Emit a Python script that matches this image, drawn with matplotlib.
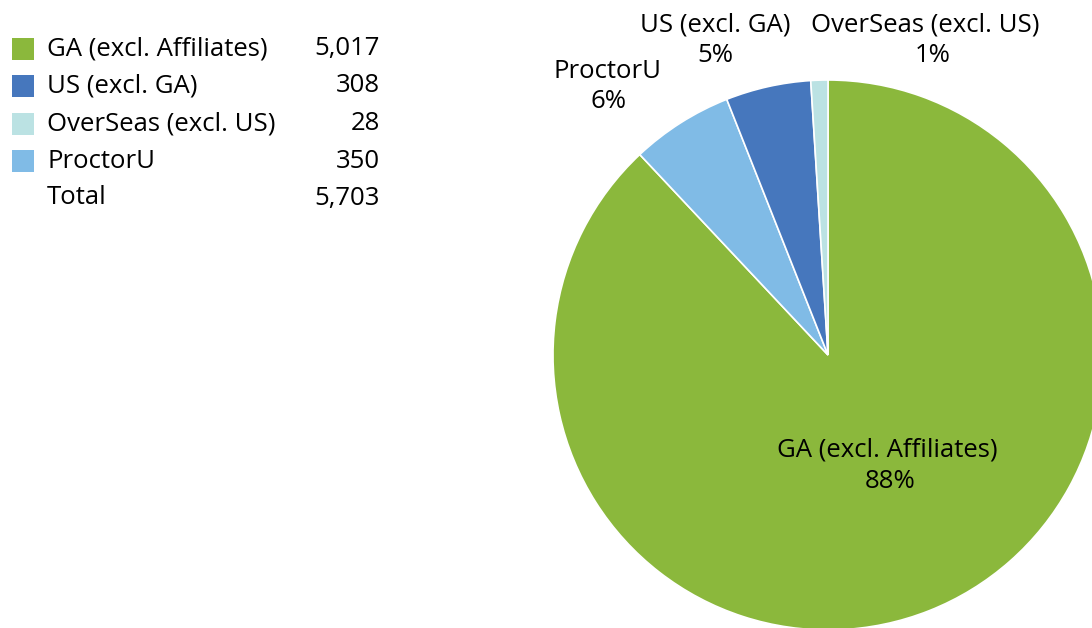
import matplotlib.pyplot as plt

# Table data
categories = ["GA (excl. Affiliates)", "US (excl. GA)", "OverSeas (excl. US)", "ProctorU"]
counts = [5017, 308, 28, 350]
total_label = "Total"
total = 5703
colors = ["#8BB83C", "#4677BD", "#BBE2E3", "#80BBE6"]

# Pie shares as shown on the chart labels (clockwise from top)
pie_order = ["GA (excl. Affiliates)", "ProctorU", "US (excl. GA)", "OverSeas (excl. US)"]
pie_share = [88, 6, 5, 1]

plt.rcParams['font.family'] = ['Open Sans', 'DejaVu Sans']
FS = 18.5

fig = plt.figure(figsize=(10.92, 6.28), dpi=100)
ax = fig.add_axes([0, 0, 1, 1])

H = 628
pie_colors = [colors[categories.index(c)] for c in pie_order]
wedges, _ = ax.pie(pie_share, colors=pie_colors, startangle=90, counterclock=False,
                   center=(828, H - 355), radius=275, frame=True,
                   wedgeprops=dict(edgecolor='white', linewidth=1.2))
ax.set_xlim(0, 1092)
ax.set_ylim(0, 628)
ax.set_aspect('equal')
ax.axis('off')

# data labels (name over percent)
label_pos = [(887, 450, 890, 481), (608, 72, 608, 102), (715, 25, 715, 56), (925, 25, 933, 56)]
for name, share, (x1, y1, x2, y2) in zip(pie_order, pie_share, label_pos):
    ax.text(x1, H - y1, name, ha='center', va='center', fontsize=FS, color='black')
    ax.text(x2, H - y2, f"{share}%", ha='center', va='center', fontsize=FS, color='black')

# legend table
row_y = [49, 86, 124, 161, 198]
for i, (cat, n, c) in enumerate(zip(categories, counts, colors)):
    y = H - row_y[i]
    ax.add_patch(plt.Rectangle((12, y - 11), 22, 22, facecolor=c, edgecolor='none'))
    ax.text(47, y, cat, ha='left', va='center', fontsize=FS, color='black')
    ax.text(380, y, f"{n:,}", ha='right', va='center', fontsize=FS, color='black')
ax.text(47, H - row_y[4], total_label, ha='left', va='center', fontsize=FS, color='black')
ax.text(380, H - row_y[4], f"{total:,}", ha='right', va='center', fontsize=FS, color='black')

fig.savefig("out.png", dpi=100)
